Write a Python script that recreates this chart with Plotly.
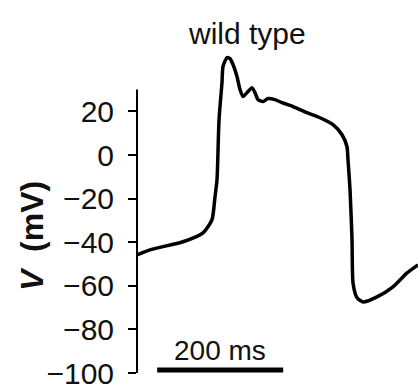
import plotly.graph_objects as go

# Action potential trace (wild type)
time_ms = [0, 20.6, 73, 104.8, 119, 123.8, 127, 130.2, 134.9, 136.5, 142.9, 147.6,
           152.4, 158.7, 163.5, 168.3, 176.2, 182.5, 187.3, 192.1, 200, 207.9, 219,
           230.2, 247.6, 269.8, 290.5, 311.1, 325.4, 333.3, 334.9, 338.1, 341.3,
           342.9, 349.2, 358.7, 381, 406.3, 428.6, 446]
voltage_mv = [-45.8, -43.5, -39.8, -35.7, -29.7, -19.2, -11.3, 16.2, 33.2, 40.6, 44.7, 44.2,
              41.5, 36.0, 30.0, 26.8, 29.1, 30.9, 28.6, 25.4, 24.5, 25.9, 25.4,
              24.0, 22.2, 19.4, 17.1, 13.9, 9.3, 3.8, -2.2, -15.9, -38.9,
              -58.7, -65.5, -67.4, -65.1, -60.5, -54.1, -50.4]

y_tick_vals = [20, 0, -20, -40, -60, -80, -100]
axis_top_mv = 30
scale_bar_ms = 200
scale_bar_label = "200 ms"
title_text = "wild type"
y_label = "<b><i>V</i></b><b>  (mV)</b>"

FONT = "Liberation Sans, Arial, Helvetica, sans-serif"

# plot area in pixels
L, T, B, H_FIG, W_FIG = 137, 46, 19, 392, 418
PH = H_FIG - T - B
PW = W_FIG - L


def py(pix):
    return (H_FIG - B - pix) / PH


def px(pix):
    return (pix - L) / PW


fig = go.Figure()
fig.add_trace(go.Scatter(
    x=time_ms, y=voltage_mv, mode="lines",
    line=dict(color="black", width=3.5, shape="spline", smoothing=0.6),
    showlegend=False, hoverinfo="skip",
))

# visible y-axis line (stops at the top tick region, like the reference)
fig.add_shape(type="line", xref="paper", yref="y", x0=0, x1=0,
              y0=min(y_tick_vals), y1=axis_top_mv,
              line=dict(color="black", width=2))

bar_start = 32
bar_y = -98.6
fig.add_shape(type="line", xref="x", yref="y",
              x0=bar_start, x1=bar_start + scale_bar_ms, y0=bar_y, y1=bar_y,
              line=dict(color="black", width=5))

fig.add_annotation(x=bar_start + scale_bar_ms / 2, y=-89.5, xref="x", yref="y",
                   text=scale_bar_label, showarrow=False,
                   font=dict(family=FONT, size=28, color="#111"),
                   xanchor="center", yanchor="middle")

# title
fig.add_annotation(x=px(247), y=py(33), xref="paper", yref="paper",
                   text=title_text, showarrow=False,
                   font=dict(family=FONT, size=30, color="#111"),
                   xanchor="center", yanchor="middle")

# y-axis label
fig.add_annotation(x=px(32), y=py(236), xref="paper", yref="paper",
                   text=y_label, showarrow=False, textangle=-90,
                   font=dict(family=FONT, size=32, color="#111"),
                   xanchor="center", yanchor="middle")

fig.update_layout(
    width=W_FIG, height=H_FIG,
    margin=dict(l=L, r=0, t=T, b=B, pad=0),
    paper_bgcolor="white", plot_bgcolor="white",
    font=dict(family=FONT, color="#111"),
    xaxis=dict(range=[0, 446], visible=False, fixedrange=True),
    yaxis=dict(range=[-100, 50], tickvals=y_tick_vals, ticks="outside", ticklen=8,
               tickwidth=1.5, tickcolor="black", showline=False,
               showgrid=False, zeroline=False,
               tickfont=dict(family=FONT, size=30, color="#111"),
               ticklabelstandoff=8, fixedrange=True),
)

fig.write_html("out.html", config={"displayModeBar": False},
               post_script="document.body.style.margin='0px';document.body.style.overflow='hidden';")
